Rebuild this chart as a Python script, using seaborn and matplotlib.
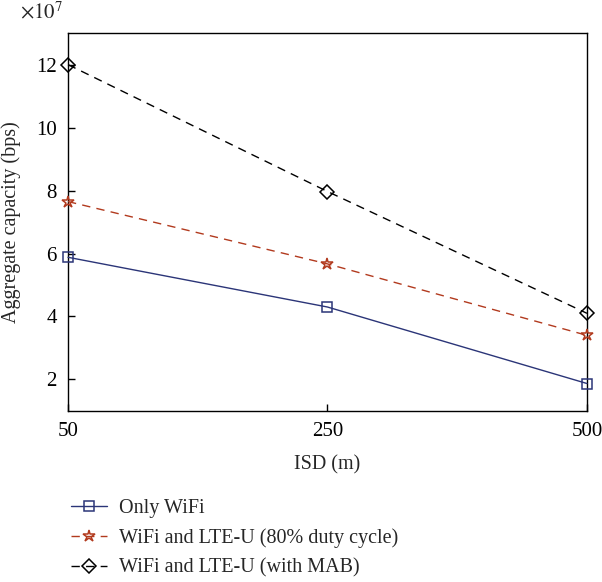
import matplotlib
matplotlib.use('Agg')
import matplotlib.pyplot as plt
import seaborn as sns
import pandas as pd

isd = ['50', '250', '500']
only_wifi = [5.88e7, 4.3e7, 1.87e7]
lteu_80 = [7.65e7, 5.67e7, 3.4e7]
lteu_mab = [12.0e7, 7.97e7, 4.1e7]
series_names = ['Only WiFi', 'WiFi and LTE-U (80% duty cycle)', 'WiFi and LTE-U (with MAB)']
y_ticks = [2e7, 4e7, 6e7, 8e7, 10e7, 12e7]

sns.set_style('white')
plt.rcParams['font.family'] = ['Liberation Serif', 'DejaVu Serif']
plt.rcParams['mathtext.fontset'] = 'stix'

pos = list(range(len(isd)))
df = pd.DataFrame({
    'x': pos * 3,
    'y': only_wifi + lteu_80 + lteu_mab,
    'serie': [series_names[0]] * 3 + [series_names[1]] * 3 + [series_names[2]] * 3,
})

fig = plt.figure(figsize=(6.02, 5.82), dpi=100)
ax = fig.add_axes([0.113, 0.294, 0.862, 0.649])

estilos = {
    series_names[0]: dict(color='#2b3578', marker='s', ls='-', ms=7),
    series_names[1]: dict(color='#b23a1e', marker='*', ls=(0, (6, 4.5)), ms=9),
    series_names[2]: dict(color='black', marker='D', ls=(0, (6, 4.5)), ms=7.5),
}
for nome in series_names:
    st = estilos[nome]
    sub = df[df['serie'] == nome]
    sns.lineplot(data=sub, x='x', y='y', ax=ax, color=st['color'], linestyle=st['ls'],
                 linewidth=1.0, marker=st['marker'], markersize=st['ms'],
                 markerfacecolor='none', markeredgecolor=st['color'], markeredgewidth=1.1,
                 label=nome, legend=False, clip_on=False, zorder=3)

ax.set_xlim(0, 2)
ax.set_ylim(1e7, 13e7)
ax.set_xticks(pos)
ax.set_xticklabels(isd)
ax.set_yticks(y_ticks)
ax.set_yticklabels([f'{v / 1e7:g}' for v in y_ticks])
ax.tick_params(axis='both', direction='in', length=5, width=1, labelsize=15, pad=8,
               bottom=True, left=True, colors='black')
for s in ax.spines.values():
    s.set_color('black')
    s.set_linewidth(1.0)
ax.text(-0.01, 1.025, r'$\times 10^7$', transform=ax.transAxes, ha='right', va='bottom', fontsize=15)
ax.set_xlabel('ISD (m)', fontsize=14.5, labelpad=10)
ax.set_ylabel('Aggregate capacity (bps)', fontsize=14.5, labelpad=11)

handles, labels = ax.get_legend_handles_labels()
fig.legend(handles, labels, loc='upper left', bbox_to_anchor=(0.118, 0.142), frameon=False,
           fontsize=14.5, handlelength=1.8, handletextpad=0.6, labelspacing=0.5,
           borderaxespad=0, borderpad=0)

fig.savefig('out.png', dpi=100)
